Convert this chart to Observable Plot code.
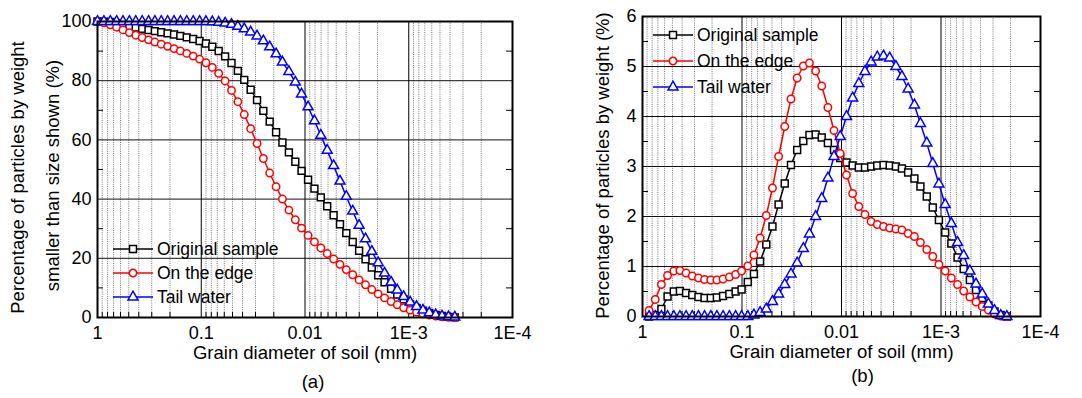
<!DOCTYPE html>
<html><head><meta charset="utf-8">
<script src="https://cdn.jsdelivr.net/npm/d3@7"></script>
<script src="https://cdn.jsdelivr.net/npm/@observablehq/plot@0.6"></script>
<style>
html,body{margin:0;padding:0;background:#fff;}
#wrap{position:relative;width:1082px;height:398px;overflow:hidden;}
#wrap svg{position:absolute;top:0;}
</style></head><body><div id="wrap"></div>
<script>
// ---------- data ----------
const seriesNames = ["Original sample", "On the edge", "Tail water"];
const seriesColors = ["#000000", "#ff0000", "#0000ff"];
const seriesSymbols = ["square", "circle", "triangle"];
const xTickValues = [1, 0.1, 0.01, 0.001, 0.0001];
const xTickLabels = ["1", "0.1", "0.01", "1E-3", "1E-4"];
const yTicksA = [0, 20, 40, 60, 80, 100];
const yTicksB = [0, 1, 2, 3, 4, 5, 6];
const xTitle = "Grain diameter of soil (mm)";
const yTitleA = ["Percentage of particles by weight", "smaller than size shown (%)"];
const yTitleB = "Percentage of particles by weight (%)";
const panelLabels = ["(a)", "(b)"];

// panel (a): cumulative curves
const sizeA = [1.000, 0.868, 0.753, 0.654, 0.568, 0.493, 0.428, 0.371, 0.322, 0.280,
  0.243, 0.211, 0.183, 0.159, 0.138, 0.1195, 0.1038, 0.0901, 0.0782, 0.0679,
  0.0589, 0.0511, 0.0444, 0.0385, 0.0334, 0.0290, 0.0252, 0.0219, 0.0190, 0.0165,
  0.0143, 0.0124, 0.0108, 0.00934, 0.00811, 0.00704, 0.00611, 0.00530, 0.00460, 0.00400,
  0.00347, 0.00301, 0.00261, 0.00227, 0.00197, 0.00171, 0.00148, 0.00129, 0.00112, 0.000969,
  0.000841, 0.000730, 0.000634, 0.000550, 0.000478, 0.000414, 0.000360];
const cumOriginal = [100, 99.97, 99.82, 99.42, 98.92, 98.41, 97.94, 97.51, 97.12, 96.75,
  96.38, 96.00, 95.59, 95.14, 94.64, 94.10, 93.41, 92.56, 91.46, 90.02,
  88.22, 85.98, 83.32, 80.29, 76.96, 73.45, 69.82, 66.18, 62.60, 59.13,
  55.80, 52.63, 49.55, 46.53, 43.55, 40.57, 37.57, 34.55, 31.52, 28.50,
  25.50, 22.54, 19.66, 16.90, 14.30, 11.90, 9.72, 7.79, 6.11, 4.4,
  3.2, 2.3, 1.5, 0.9, 0.5, 0.2, 0.05];
const cumEdge = [99.88, 99.54, 98.90, 98.08, 97.17, 96.25, 95.38, 94.57, 93.80, 93.06,
  92.33, 91.60, 90.85, 90.06, 89.22, 88.31, 87.30, 86.07, 84.50, 82.48,
  79.91, 76.71, 72.91, 68.56, 63.79, 58.78, 53.71, 48.80, 44.19, 40.01,
  36.29, 33.03, 30.20, 27.74, 25.54, 23.50, 21.60, 19.76, 17.96, 16.19,
  14.44, 12.71, 11.05, 9.45, 7.97, 6.63, 5.4, 4.3, 3.3, 2.5,
  1.8, 1.25, 0.8, 0.45, 0.2, 0.05, 0];
const cumTail = [100, 100, 100, 100, 100, 100, 100, 100, 100, 100,
  100, 100, 100, 100, 100, 100, 100, 99.97, 99.89, 99.74,
  99.44, 98.99, 98.35, 97.50, 96.43, 95.07, 93.42, 91.42, 89.06, 86.29,
  83.09, 79.49, 75.49, 71.12, 66.46, 61.56, 56.47, 51.28, 46.07, 40.90,
  35.90, 31.10, 26.55, 22.32, 18.46, 14.99, 11.93, 9.28, 7.04, 5.18,
  3.70, 2.48, 1.57, 0.92, 0.47, 0.22, 0.10];

// panel (b): frequency curves
const sizeB = [0.859, 0.745, 0.646, 0.560, 0.485, 0.421, 0.365, 0.316, 0.274, 0.238,
  0.206, 0.179, 0.155, 0.134, 0.116, 0.101, 0.0875, 0.0759, 0.0658, 0.0570,
  0.0494, 0.0429, 0.0372, 0.0322, 0.0279, 0.0242, 0.0210, 0.0182, 0.0158, 0.0137,
  0.0119, 0.0103, 0.00891, 0.00773, 0.00670, 0.00581, 0.00504, 0.00437, 0.00378, 0.00328,
  0.00284, 0.00247, 0.00214, 0.00185, 0.00161, 0.00139, 0.00121, 0.00105, 0.000908, 0.000787,
  0.000682, 0.000592, 0.000513, 0.000445, 0.000385, 0.000334, 0.000290, 0.000251, 0.000218];
const pctOriginal = [0, 0.03, 0.15, 0.40, 0.50, 0.51, 0.47, 0.43, 0.39, 0.37,
  0.37, 0.38, 0.41, 0.45, 0.50, 0.54, 0.69, 0.85, 1.10, 1.44,
  1.80, 2.24, 2.66, 3.03, 3.33, 3.51, 3.63, 3.64, 3.58, 3.47,
  3.33, 3.17, 3.08, 3.02, 2.98, 2.98, 3.00, 3.02, 3.03, 3.02,
  3.00, 2.96, 2.88, 2.76, 2.60, 2.40, 2.18, 1.93, 1.68, 1.46,
  1.18, 0.95, 0.73, 0.53, 0.37, 0.22, 0.10, 0.03, 0];
const pctEdge = [0.12, 0.34, 0.64, 0.82, 0.91, 0.92, 0.87, 0.81, 0.77, 0.74,
  0.73, 0.73, 0.75, 0.79, 0.84, 0.91, 1.01, 1.23, 1.57, 2.02,
  2.57, 3.20, 3.80, 4.35, 4.77, 5.01, 5.07, 4.91, 4.61, 4.18,
  3.72, 3.26, 2.83, 2.46, 2.20, 2.04, 1.90, 1.84, 1.80, 1.77,
  1.75, 1.73, 1.66, 1.60, 1.48, 1.34, 1.20, 1.04, 0.91, 0.77,
  0.64, 0.51, 0.39, 0.29, 0.20, 0.13, 0.05, 0.01, 0];
const pctTail = [0, 0, 0, 0, 0, 0, 0, 0, 0, 0,
  0, 0, 0, 0, 0, 0, 0, 0.03, 0.08, 0.15,
  0.30, 0.45, 0.64, 0.85, 1.07, 1.36, 1.65, 2.00, 2.36, 2.77,
  3.20, 3.60, 4.00, 4.37, 4.66, 4.90, 5.09, 5.19, 5.21, 5.17,
  5.00, 4.80, 4.55, 4.23, 3.86, 3.47, 3.06, 2.65, 2.24, 1.86,
  1.48, 1.22, 0.91, 0.65, 0.45, 0.25, 0.12, 0.02, 0];

// ---------- drawing ----------
const FONT = '"Liberation Sans", Arial, Helvetica, sans-serif';
const symbolR = {square: 3.9, circle: 3.7, triangle: 3.7};
const minorX = [0.1, 0.01, 0.001, 0.0001].flatMap(p => [2,3,4,5,6,7,8,9].map(m => +(m * p).toPrecision(3)));
const tickLabel = d => xTickLabels[xTickValues.indexOf(d)];

function makePanel(cfg) {
  const marks = [
    Plot.ruleX(minorX, {stroke: "#6a6a6a", strokeWidth: 0.9, strokeDasharray: "1,1.2"}),
    Plot.ruleX(xTickValues.slice(1, -1), {stroke: "#000", strokeWidth: 1}),
    Plot.ruleY(cfg.yTicks.slice(1, -1), {stroke: "#111", strokeWidth: 1}),
    Plot.ruleX(minorX, {y1: cfg.yTicks[0], y2: cfg.xTickLen, stroke: "#000", strokeWidth: 1}),
    Plot.ruleY(cfg.yMinor, {x1: 1, x2: cfg.yTickL, stroke: "#000", strokeWidth: 1}),
    Plot.ruleY(cfg.yMinor, {x1: 0.0001, x2: cfg.yTickR, stroke: "#000", strokeWidth: 1})
  ];
  cfg.values.forEach((vals, si) => {
    const rows = vals.map((v, i) => ({d: cfg.sizes[i], v}));
    marks.push(Plot.line(rows, {x: "d", y: "v", stroke: seriesColors[si], strokeWidth: 1.5}));
    marks.push(Plot.dot(rows, {x: "d", y: "v", symbol: seriesSymbols[si], r: symbolR[seriesSymbols[si]],
      stroke: seriesColors[si], fill: "white", strokeWidth: 1.5}));
  });
  marks.push(
    Plot.frame({stroke: "#000", strokeWidth: 2}),
    Plot.axisX({ticks: xTickValues, tickFormat: tickLabel, tickSize: 0, tickPadding: 9, fontSize: 18, label: null}),
    Plot.axisY({ticks: cfg.yTicks, tickFormat: d => String(d), tickSize: 0, tickPadding: 6, fontSize: 18, label: null}),
    Plot.text([xTitle], {frameAnchor: "bottom", dy: 41, fontSize: 18.5, textAnchor: "middle"}),
    Plot.text([cfg.panelLabel], {frameAnchor: "bottom", dx: cfg.labelDx, dy: cfg.labelDy, fontSize: 18.5, textAnchor: "middle"})
  );
  cfg.yTitles.forEach(t => marks.push(
    Plot.text([t.text], {frameAnchor: "left", textAnchor: "middle", lineAnchor: "middle", rotate: -90, dx: t.dx, dy: t.dy, fontSize: 18.5})));
  const svg = Plot.plot({
    width: cfg.width, height: 398,
    marginLeft: cfg.ml, marginRight: cfg.mr, marginTop: cfg.mt, marginBottom: cfg.mb,
    x: {type: "log", domain: [1, 0.0001], axis: null},
    y: {domain: [cfg.yTicks[0], cfg.yTicks[cfg.yTicks.length - 1]], axis: null},
    style: {fontFamily: FONT, fontSize: "18px", color: "#000", background: "transparent", overflow: "visible"},
    marks
  });
  // legend
  const g = d3.select(svg).append("g").attr("font-family", FONT).attr("font-size", 17.5).attr("text-anchor", "start");
  seriesNames.forEach((name, si) => {
    const y = cfg.legend.y0 + si * cfg.legend.dy;
    g.append("line").attr("x1", cfg.legend.x1).attr("x2", cfg.legend.x2).attr("y1", y).attr("y2", y)
      .attr("stroke", seriesColors[si]).attr("stroke-width", 1.6);
    const type = {square: d3.symbolSquare, circle: d3.symbolCircle, triangle: d3.symbolTriangle}[seriesSymbols[si]];
    const r = symbolR[seriesSymbols[si]];
    g.append("path").attr("d", d3.symbol(type, Math.PI * r * r)())
      .attr("transform", `translate(${(cfg.legend.x1 + cfg.legend.x2) / 2},${y})`)
      .attr("fill", "white").attr("stroke", seriesColors[si]).attr("stroke-width", 1.5);
    g.append("text").attr("x", cfg.legend.tx).attr("y", y).attr("dy", "0.36em")
      .attr("text-anchor", "start").attr("fill", "#000").text(name);
  });
  svg.style.left = cfg.left + "px";
  return svg;
}

const wrap = document.getElementById("wrap");
wrap.appendChild(makePanel({
  left: 0, width: 541, ml: 97, mr: 29, mt: 21, mb: 81,
  sizes: sizeA, values: [cumOriginal, cumEdge, cumTail], yTicks: yTicksA,
  yMinor: [10, 30, 50, 70, 90], xTickLen: 1.7, yTickL: 0.875, yTickR: 0.0001143,
  panelLabel: panelLabels[0], labelDx: 8, labelDy: 70,
  yTitles: [{text: yTitleA[0], dx: -79, dy: 8}, {text: yTitleA[1], dx: -44, dy: 6}],
  legend: {x1: 113, x2: 153, y0: 249, dy: 24, tx: 157}
}));
wrap.appendChild(makePanel({
  left: 541, width: 541, ml: 101, mr: 42, mt: 16, mb: 82,
  sizes: sizeB, values: [pctOriginal, pctEdge, pctTail], yTicks: yTicksB,
  yMinor: [0.5, 1.5, 2.5, 3.5, 4.5, 5.5], xTickLen: 0.1, yTickL: 0.87, yTickR: 0.0001149,
  panelLabel: panelLabels[1], labelDx: 21, labelDy: 65,
  yTitles: [{text: yTitleB, dx: -39, dy: -1}],
  legend: {x1: 112, x2: 152, y0: 35, dy: 26, tx: 156}
}));
</script></body></html>
